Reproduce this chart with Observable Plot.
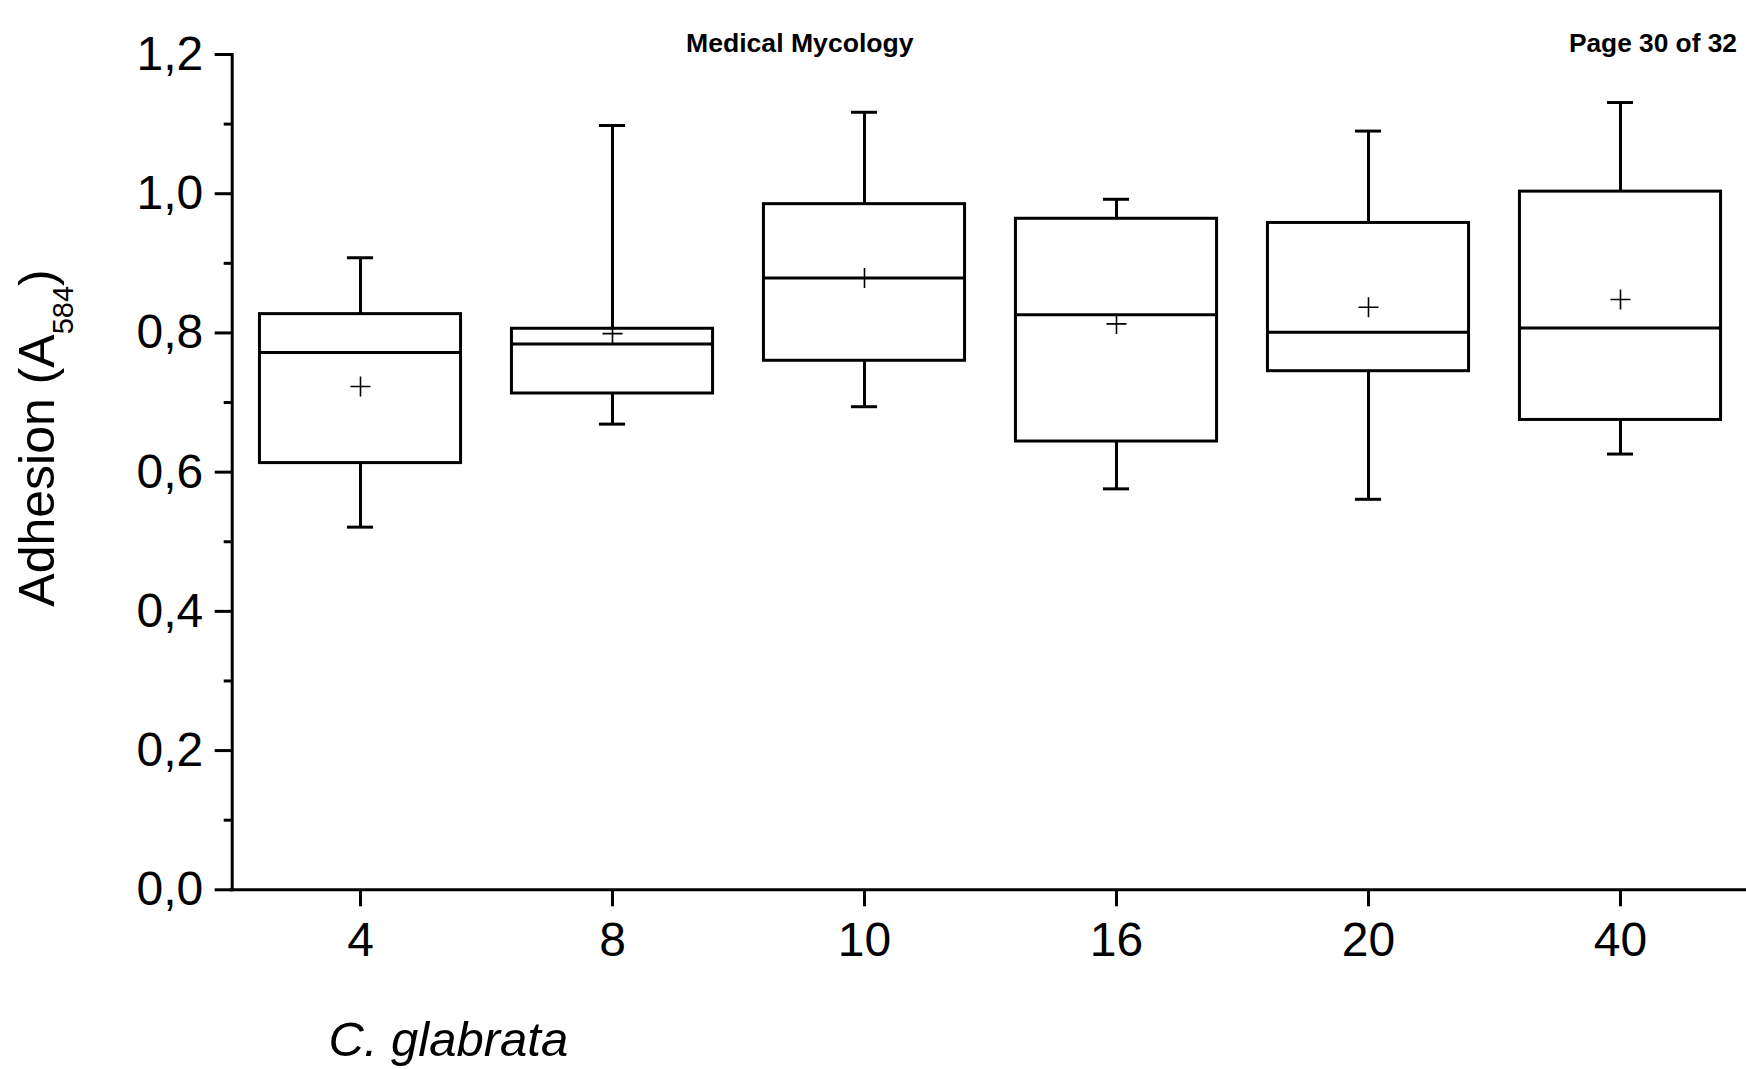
<!DOCTYPE html>
<html><head><meta charset="utf-8">
<script src="https://cdn.jsdelivr.net/npm/d3@7"></script>
<script src="https://cdn.jsdelivr.net/npm/@observablehq/plot@0.6"></script>
<style>html,body{margin:0;padding:0;background:#fff;overflow:hidden}</style>
</head><body><div id="chart"></div>
<script>
// Data
const concentrations = ["4", "8", "10", "16", "20", "40"];
const whiskerLow  = [0.521, 0.669, 0.694, 0.576, 0.561, 0.626];
const q1          = [0.613, 0.713, 0.760, 0.644, 0.745, 0.675];
const median      = [0.772, 0.784, 0.879, 0.826, 0.801, 0.807];
const q3          = [0.827, 0.806, 0.985, 0.964, 0.958, 1.003];
const whiskerHigh = [0.908, 1.098, 1.117, 0.992, 1.090, 1.131];
const mean        = [0.723, 0.799, 0.879, 0.813, 0.837, 0.848];
const yMajorTicks = [0, 0.2, 0.4, 0.6, 0.8, 1.0, 1.2];
const yMinorTicks = [0.1, 0.3, 0.5, 0.7, 0.9, 1.1];

const rows = concentrations.map((c, i) => ({
  c, lo: whiskerLow[i], q1: q1[i], med: median[i], q3: q3[i], hi: whiskerHigh[i], mean: mean[i]
}));

const W = 1746, H = 1069;
const mLeft = 231.7, yBottom = 889.3, mTop = 54, xEnd = 1749;
const bandW = (xEnd - mLeft) / concentrations.length;
const boxInset = (bandW - 202) / 2;
const capInset = (bandW - 27) / 2;
const font = "'Liberation Sans', Arial, Helvetica, sans-serif";

const plusSymbol = {
  draw(ctx, size) {
    const h = Math.sqrt(size / Math.PI);
    ctx.moveTo(-h, 0); ctx.lineTo(h, 0);
    ctx.moveTo(0, -h); ctx.lineTo(0, h);
  }
};

const chart = Plot.plot({
  width: W, height: H,
  marginLeft: mLeft, marginRight: 0, marginTop: mTop, marginBottom: H - yBottom,
  style: {fontFamily: font, background: "#fff", color: "#000"},
  x: {type: "band", domain: concentrations, range: [mLeft, xEnd], padding: 0, label: null},
  y: {domain: [0, 1.2], label: null},
  marks: [
    Plot.axisY({ticks: yMajorTicks, tickSize: 17, tickPadding: 12, strokeWidth: 3,
      tickFormat: d => d.toFixed(1).replace(".", ","), fontSize: 48, label: null}),
    Plot.axisY({ticks: yMinorTicks, tickSize: 8, strokeWidth: 3, tickFormat: () => "", label: null}),
    Plot.axisX({tickSize: 17, tickPadding: 15, strokeWidth: 3, fontSize: 48, label: null}),
    Plot.frame({anchor: "left", strokeWidth: 3, strokeLinecap: "square"}),
    Plot.ruleY([0], {strokeWidth: 3, strokeLinecap: "square"}),
    // whiskers
    Plot.ruleX(rows, {x: "c", y1: "q3", y2: "hi", strokeWidth: 3}),
    Plot.ruleX(rows, {x: "c", y1: "lo", y2: "q1", strokeWidth: 3}),
    Plot.tickY(rows, {x: "c", y: "hi", insetLeft: capInset, insetRight: capInset, strokeWidth: 3}),
    Plot.tickY(rows, {x: "c", y: "lo", insetLeft: capInset, insetRight: capInset, strokeWidth: 3}),
    // boxes
    Plot.barY(rows, {x: "c", y1: "q1", y2: "q3", insetLeft: boxInset, insetRight: boxInset,
      fill: "none", stroke: "#000", strokeWidth: 3}),
    Plot.tickY(rows, {x: "c", y: "med", insetLeft: boxInset, insetRight: boxInset, strokeWidth: 3}),
    // mean
    Plot.dot(rows, {x: "c", y: "mean", symbol: plusSymbol, r: 10, stroke: "#000", fill: "none", strokeWidth: 1.6})
  ]
});

document.getElementById("chart").appendChild(chart);
const svg = d3.select(chart);

// Y axis title with subscript
const yt = svg.append("text")
  .attr("transform", "translate(54,438) rotate(-90)")
  .attr("text-anchor", "middle")
  .attr("font-family", font).attr("font-size", 50).attr("fill", "#000");
yt.append("tspan").text("Adhesion (A");
yt.append("tspan").attr("font-size", 29).attr("dy", 19).text("584");
yt.append("tspan").attr("font-size", 50).attr("dy", -19).text(")");

// Page header
svg.append("text").attr("x", 686).attr("y", 51.7).attr("text-anchor", "start")
  .attr("font-family", font).attr("font-size", 26.6).attr("font-weight", "bold").attr("fill", "#000")
  .text("Medical Mycology");
svg.append("text").attr("x", 1737).attr("y", 51.7).attr("text-anchor", "end")
  .attr("font-family", font).attr("font-size", 26.3).attr("font-weight", "bold").attr("fill", "#000")
  .text("Page 30 of 32");

// Species label
svg.append("text").attr("x", 328.5).attr("y", 1056).attr("text-anchor", "start")
  .attr("font-family", font).attr("font-size", 49).attr("font-style", "italic").attr("fill", "#000")
  .text("C. glabrata");
</script>
</body></html>
